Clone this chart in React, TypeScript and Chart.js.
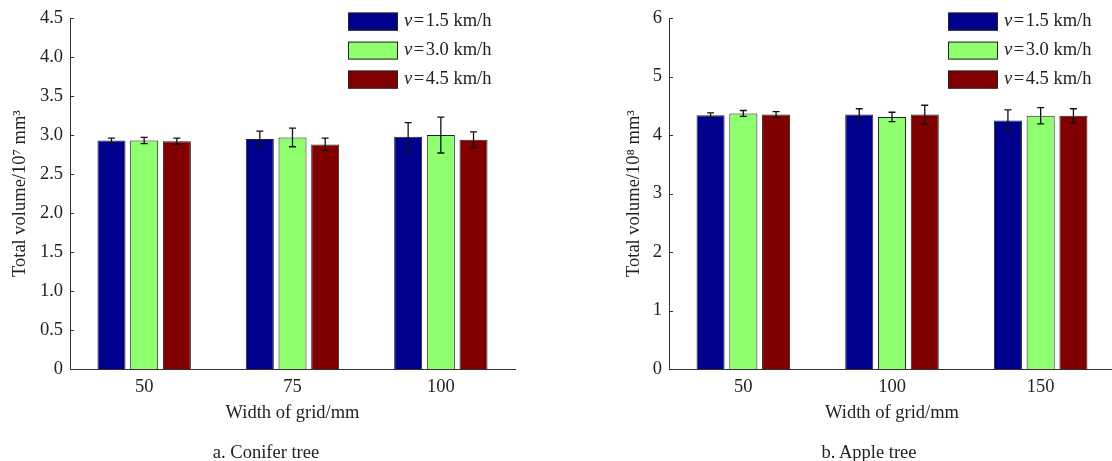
import React, { useEffect, useRef } from 'react';
import { Chart, registerables } from 'chart.js';

Chart.register(...registerables);

// ---------- data ----------
const seriesLabels = ['1.5 km/h', '3.0 km/h', '4.5 km/h'];
const seriesColors = ['#00008F', '#8FFF70', '#800000'];

const coniferCategories = ['50', '75', '100'];
const coniferV15 = [2.93, 2.95, 2.98];
const coniferV30 = [2.93, 2.97, 3.0];
const coniferV45 = [2.92, 2.88, 2.94];
const coniferErr15 = [0.03, 0.1, 0.18];
const coniferErr30 = [0.04, 0.12, 0.23];
const coniferErr45 = [0.04, 0.08, 0.1];
const coniferYTicks = [0, 0.5, 1, 1.5, 2, 2.5, 3, 3.5, 4, 4.5];

const appleCategories = ['50', '100', '150'];
const appleV15 = [4.34, 4.35, 4.25];
const appleV30 = [4.37, 4.31, 4.33];
const appleV45 = [4.35, 4.35, 4.33];
const appleErr15 = [0.04, 0.1, 0.18];
const appleErr30 = [0.05, 0.08, 0.14];
const appleErr45 = [0.05, 0.16, 0.12];
const appleYTicks = [0, 1, 2, 3, 4, 5, 6];

const FONT = "'Liberation Serif', 'Times New Roman', serif";
const FS = 18.5;
const TEXT = '#222';
const AXIS = '#333';

// ---------- plugins ----------
const errorBarPlugin = {
  id: 'errorBars',
  afterDatasetsDraw(chart: any) {
    const ctx = chart.ctx;
    const y = chart.scales.y;
    ctx.save();
    ctx.strokeStyle = '#111';
    ctx.lineWidth = 1.3;
    chart.data.datasets.forEach((ds: any, di: number) => {
      const meta = chart.getDatasetMeta(di);
      meta.data.forEach((bar: any, i: number) => {
        const v = ds.data[i];
        const e = ds.errors[i];
        const yt = y.getPixelForValue(v + e);
        const yb = y.getPixelForValue(v - e);
        const x = bar.x;
        ctx.beginPath();
        ctx.moveTo(x, yt);
        ctx.lineTo(x, yb);
        ctx.moveTo(x - 3.5, yt);
        ctx.lineTo(x + 3.5, yt);
        ctx.moveTo(x - 3.5, yb);
        ctx.lineTo(x + 3.5, yb);
        ctx.stroke();
      });
    });
    ctx.restore();
  },
};

const innerTicksPlugin = {
  id: 'innerTicks',
  afterDraw(chart: any) {
    const ctx = chart.ctx;
    const y = chart.scales.y;
    const left = chart.chartArea.left;
    ctx.save();
    ctx.strokeStyle = AXIS;
    ctx.lineWidth = 1;
    y.ticks.forEach((t: any) => {
      const py = Math.round(y.getPixelForValue(t.value)) + 0.5;
      ctx.beginPath();
      ctx.moveTo(left, py);
      ctx.lineTo(left + 4, py);
      ctx.stroke();
    });
    ctx.restore();
  },
};

const customLegendPlugin = {
  id: 'customLegend',
  afterDraw(chart: any) {
    const ctx = chart.ctx;
    const { right, top } = chart.chartArea;
    const x0 = right - 167;
    ctx.save();
    chart.data.datasets.forEach((ds: any, i: number) => {
      const cy = top + 3.5 + i * 29;
      ctx.fillStyle = ds.backgroundColor;
      ctx.fillRect(x0, cy - 9, 50, 18);
      ctx.strokeStyle = '#222';
      ctx.lineWidth = 1;
      ctx.strokeRect(x0 + 0.5, cy - 8.5, 49, 17);
      ctx.fillStyle = TEXT;
      ctx.textBaseline = 'middle';
      ctx.textAlign = 'left';
      ctx.font = `italic ${FS}px ${FONT}`;
      const tx = x0 + 56;
      ctx.fillText('v', tx, cy);
      let w = ctx.measureText('v').width + 1.5;
      ctx.font = `${FS}px ${FONT}`;
      ctx.fillText('=', tx + w, cy);
      w += ctx.measureText('=').width + 1.5;
      ctx.fillText(ds.label, tx + w, cy);
    });
    ctx.restore();
  },
};

type PanelCfg = {
  left: number;
  width: number;
  categories: string[];
  values: number[][];
  errors: number[][];
  yTicks: number[];
  yTitle: string;
  padLeft: number;
  padRight: number;
  padTop: number;
  yAxisWidth: number;
  yTitlePad: number;
  fmt: (v: number) => string;
};

function BarPanel({ cfg }: { cfg: PanelCfg }) {
  const ref = useRef<HTMLCanvasElement | null>(null);
  useEffect(() => {
    if (!ref.current) return;
    const chart = new Chart(ref.current, {
      type: 'bar',
      data: {
        labels: cfg.categories,
        datasets: cfg.values.map((vals, i) => ({
          label: seriesLabels[i],
          data: vals,
          errors: cfg.errors[i],
          backgroundColor: seriesColors[i],
          borderColor: '#222',
          borderWidth: 1,
          categoryPercentage: 0.661,
          barPercentage: 0.857,
        })) as any,
      },
      options: {
        responsive: false,
        animation: false,
        devicePixelRatio: 1,
        layout: {
          padding: { left: cfg.padLeft, right: cfg.padRight, top: cfg.padTop, bottom: 0 },
        },
        plugins: {
          legend: { display: false },
          tooltip: { enabled: false },
          title: { display: false },
        },
        scales: {
          x: {
            type: 'category',
            offset: true,
            grid: { display: false, drawTicks: false },
            border: { display: true, color: AXIS, width: 1 },
            ticks: {
              color: TEXT,
              font: { family: FONT, size: FS },
              padding: 7,
              maxRotation: 0,
            },
            title: {
              display: true,
              text: 'Width of grid/mm',
              color: TEXT,
              font: { family: FONT, size: FS },
              padding: { top: 0, bottom: 37 },
            },
            afterFit(scale: any) {
              scale.height = 92;
            },
          },
          y: {
            type: 'linear',
            min: cfg.yTicks[0],
            max: cfg.yTicks[cfg.yTicks.length - 1],
            afterBuildTicks(scale: any) {
              scale.ticks = cfg.yTicks.map((v) => ({ value: v }));
            },
            grid: { display: false, drawTicks: false },
            border: { display: true, color: AXIS, width: 1 },
            ticks: {
              color: TEXT,
              font: { family: FONT, size: FS },
              padding: 7,
              callback: (v: any) => cfg.fmt(Number(v)),
            },
            title: {
              display: true,
              text: cfg.yTitle,
              color: TEXT,
              font: { family: FONT, size: FS },
              padding: { top: cfg.yTitlePad, bottom: 0 },
            },
            afterFit(scale: any) {
              scale.width = cfg.yAxisWidth;
            },
          },
        },
      } as any,
      plugins: [errorBarPlugin, innerTicksPlugin, customLegendPlugin],
    });
    return () => chart.destroy();
  }, []);
  return (
    <canvas
      ref={ref}
      width={cfg.width}
      height={461}
      style={{ position: 'absolute', left: cfg.left, top: 0, width: cfg.width, height: 461 }}
    />
  );
}

const coniferCfg: PanelCfg = {
  left: 0,
  width: 556,
  categories: coniferCategories,
  values: [coniferV15, coniferV30, coniferV45],
  errors: [coniferErr15, coniferErr30, coniferErr45],
  yTicks: coniferYTicks,
  yTitle: 'Total volume/10\u2077 mm\u00B3',
  padLeft: 0,
  padRight: 41,
  padTop: 17,
  yAxisWidth: 70,
  yTitlePad: 9,
  fmt: (v) => (v === 0 ? '0' : v.toFixed(1)),
};

const appleCfg: PanelCfg = {
  left: 556,
  width: 562,
  categories: appleCategories,
  values: [appleV15, appleV30, appleV45],
  errors: [appleErr15, appleErr30, appleErr45],
  yTicks: appleYTicks,
  yTitle: 'Total volume/10\u2078 mm\u00B3',
  padLeft: 57,
  padRight: 3,
  padTop: 16,
  yAxisWidth: 56,
  yTitlePad: 10,
  fmt: (v) => String(v),
};

const captionStyle: React.CSSProperties = {
  position: 'absolute',
  top: 441,
  width: 220,
  textAlign: 'center',
  fontFamily: FONT,
  fontSize: FS,
  lineHeight: '22px',
  color: TEXT,
};

export default function App() {
  return (
    <div
      style={{
        position: 'absolute',
        left: 0,
        top: 0,
        width: 1112,
        height: 461,
        overflow: 'hidden',
        background: '#fff',
      }}
    >
      <BarPanel cfg={coniferCfg} />
      <BarPanel cfg={appleCfg} />
      <div style={{ ...captionStyle, left: 156 }}>a. Conifer tree</div>
      <div style={{ ...captionStyle, left: 759 }}>b. Apple tree</div>
    </div>
  );
}
